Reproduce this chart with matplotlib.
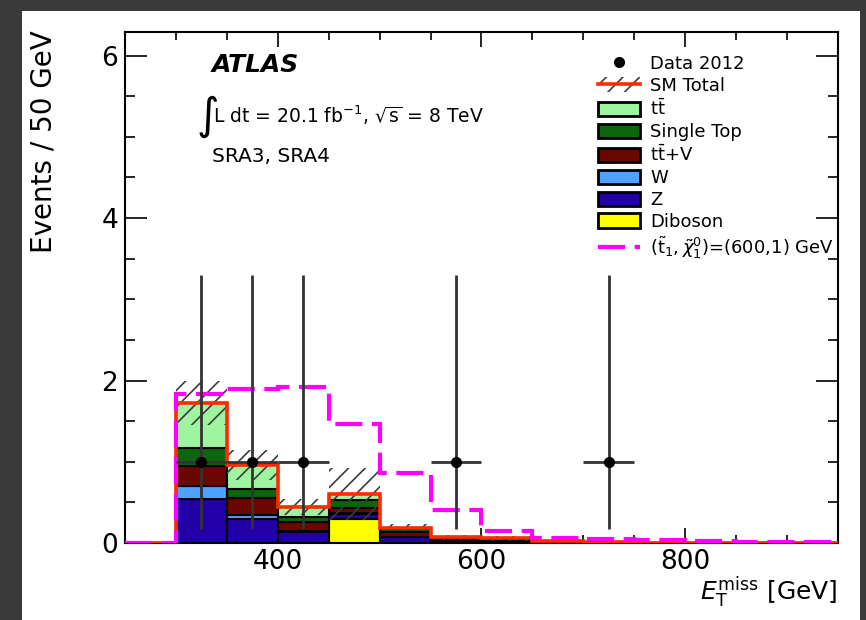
import numpy as np
import matplotlib
matplotlib.use("Agg")
import matplotlib.pyplot as plt
from matplotlib.patches import Rectangle, Patch
from matplotlib.lines import Line2D
from matplotlib.ticker import MultipleLocator

plt.rcParams["font.family"] = ["DejaVu Sans"]
plt.rcParams["mathtext.fontset"] = "dejavusans"
plt.rcParams["hatch.linewidth"] = 1.2

# Binning in ETmiss [GeV]
bin_edges = np.arange(250, 951, 50)

# Background expectations per 50 GeV bin (stack order: bottom -> top)
diboson    = [0, 0.00, 0.00, 0.00, 0.30, 0.00, 0.00, 0.00, 0.000, 0.000, 0, 0, 0, 0]
z_jets     = [0, 0.54, 0.30, 0.13, 0.06, 0.07, 0.02, 0.02, 0.005, 0.005, 0, 0, 0, 0]
w_jets     = [0, 0.16, 0.04, 0.02, 0.01, 0.01, 0.00, 0.00, 0.000, 0.000, 0, 0, 0, 0]
ttv        = [0, 0.25, 0.21, 0.11, 0.06, 0.05, 0.02, 0.01, 0.005, 0.000, 0, 0, 0, 0]
single_top = [0, 0.22, 0.12, 0.06, 0.10, 0.04, 0.02, 0.02, 0.005, 0.005, 0, 0, 0, 0]
ttbar      = [0, 0.55, 0.29, 0.12, 0.07, 0.02, 0.01, 0.01, 0.005, 0.000, 0, 0, 0, 0]
sm_uncert  = [0, 0.27, 0.18, 0.10, 0.32, 0.04, 0.03, 0.03, 0.010, 0.005, 0, 0, 0, 0]

# Signal (stop, neutralino) = (600, 1) GeV
signal = [0, 1.84, 1.90, 1.92, 1.47, 0.86, 0.41, 0.15, 0.06, 0.05, 0.035, 0.02, 0.015, 0.01]

# Observed data 2012
data_x = [325, 375, 425, 575, 725]
data_y = [1, 1, 1, 1, 1]
data_err_lo = [0.83, 0.83, 0.83, 0.83, 0.83]
data_err_hi = [2.30, 2.30, 2.30, 2.30, 2.30]

components = [
    ("Diboson", diboson, "#ffff00"),
    ("Z", z_jets, "#2200a8"),
    ("W", w_jets, "#4da3ff"),
    (r"$\mathrm{t\bar{t}}$+V", ttv, "#6a0800"),
    ("Single Top", single_top, "#0d650d"),
    (r"$\mathrm{t\bar{t}}$", ttbar, "#9ff59f"),
]

SIGNAL_DASH = (0, (6.5, 2.3))

W_PX, H_PX = 866, 620
fig = plt.figure(figsize=(W_PX / 100, H_PX / 100), dpi=100, facecolor="#3a3a3a")
fig.add_artist(Rectangle((22 / W_PX, 0), 838 / W_PX, 609 / H_PX,
                         transform=fig.transFigure, facecolor="white",
                         edgecolor="none", zorder=-1))
ax = fig.add_axes([125 / W_PX, 77 / H_PX, 713 / W_PX, 511 / H_PX])

centers = 0.5 * (bin_edges[:-1] + bin_edges[1:])
width = np.diff(bin_edges)
bottom = np.zeros(len(centers))
for name, vals, col in components:
    vals = np.asarray(vals, dtype=float)
    ax.bar(centers, vals, width=width, bottom=bottom, color=col,
           edgecolor="black", linewidth=1.5, zorder=2)
    bottom = bottom + vals
total = bottom
err = np.asarray(sm_uncert, dtype=float)

# Uncertainty band on SM total
ax.bar(centers, 2 * err, width=width, bottom=total - err, fill=False,
       hatch="//", edgecolor="#3c3c3c", linewidth=0, zorder=3)
# SM total outline
ax.stairs(total, bin_edges, color="#ff2a00", linewidth=2.6, zorder=4)
# Signal
ax.stairs(signal, bin_edges, color="#ff00ff", linewidth=3,
          linestyle=SIGNAL_DASH, zorder=5)
# Data
ax.errorbar(data_x, data_y, xerr=25, yerr=[data_err_lo, data_err_hi],
            fmt="o", color="black", ecolor="#333333", elinewidth=2,
            markersize=7, capsize=0, zorder=6)

ax.set_xlim(250, 950)
ax.set_ylim(0, 6.29)
ax.set_xticks([400, 600, 800])
ax.xaxis.set_minor_locator(MultipleLocator(50))
ax.set_yticks([0, 2, 4, 6])
ax.yaxis.set_minor_locator(MultipleLocator(0.5))
ax.tick_params(which="both", direction="in", top=True, right=True, width=1.2)
ax.tick_params(axis="y", which="major", length=16, labelsize=19, pad=5)
ax.tick_params(axis="y", which="minor", length=7.5)
ax.tick_params(axis="x", which="major", length=11, labelsize=19, pad=4)
ax.tick_params(axis="x", which="minor", length=5.5)
for sp in ax.spines.values():
    sp.set_linewidth(1.5)

ax.set_ylabel("Events / 50 GeV", fontsize=20, loc="top")
ax.yaxis.set_label_coords(-0.095, 1.004)
ax.set_xlabel(r"$E_{\mathrm{T}}^{\mathrm{miss}}$ [GeV]", fontsize=18, loc="right")
ax.xaxis.set_label_coords(1.0, -0.062)

ax.text(0.122, 0.935, "ATLAS", transform=ax.transAxes, fontsize=18,
        fontweight="bold", fontstyle="italic", va="center", ha="left")
ax.text(0.099, 0.834, r"$\int$", transform=ax.transAxes, fontsize=22,
        va="center", ha="left")
ax.text(0.124, 0.838, r"L dt = 20.1 fb$^{-1}$, $\sqrt{\mathrm{s}}$ = 8 TeV",
        transform=ax.transAxes, fontsize=13.5, va="center", ha="left")
ax.text(0.122, 0.757, "SRA3, SRA4", transform=ax.transAxes, fontsize=14.5,
        va="center", ha="left")

# Legend
handles = [
    Line2D([], [], marker="o", color="black", linestyle="none", markersize=7),
    (Patch(facecolor="none", edgecolor="#3c3c3c", hatch="//", linewidth=0),
     Line2D([], [], color="#ff2a00", linewidth=2.6)),
]
labels = ["Data 2012", "SM Total"]
for name, vals, col in reversed(components):
    handles.append(Patch(facecolor=col, edgecolor="black", linewidth=2))
    labels.append(name)
handles.append(Line2D([], [], color="#ff00ff", linewidth=3, linestyle=SIGNAL_DASH))
labels.append(r"$(\tilde{\mathrm{t}}_{1},\tilde{\chi}_{1}^{0})$=(600,1) GeV")

ax.legend(handles, labels, loc="upper left", bbox_to_anchor=(0.6634, 0.955),
          frameon=False, fontsize=13, borderpad=0, borderaxespad=0,
          labelspacing=0.21, handlelength=2.33, handleheight=0.85,
          handletextpad=0.55)

fig.savefig("out.png", dpi=100, facecolor=fig.get_facecolor())
